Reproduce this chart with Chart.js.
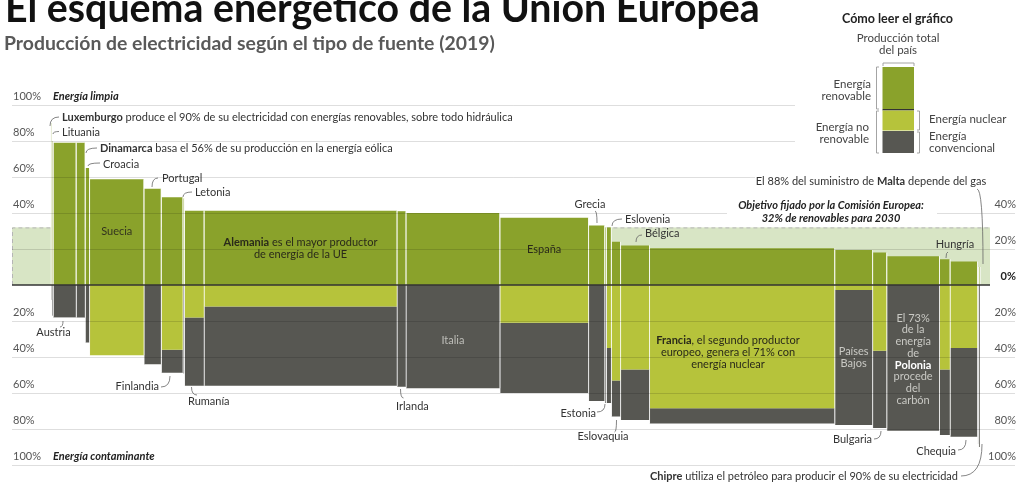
<!DOCTYPE html>
<html lang="es">
<head>
<meta charset="utf-8">
<title>El esquema energético de la Unión Europea</title>
<script src="https://cdn.jsdelivr.net/npm/chart.js@4.4.1/dist/chart.umd.min.js"></script>
<style>
  html, body { margin: 0; padding: 0; background: #fff; }
  #wrap { position: relative; width: 1017px; height: 482px; }
</style>
</head>
<body>
<div id="wrap"><canvas id="chart"></canvas></div>
<script>
// Datos (2019). Ancho = produccion total (TWh), alto = % por fuente.
const paises = ['Luxemburgo', 'Lituania', 'Austria', 'Dinamarca', 'Croacia', 'Suecia', 'Portugal', 'Finlandia',
  'Letonia', 'Rumanía', 'Alemania', 'Irlanda', 'Italia', 'España', 'Grecia', 'Estonia', 'Eslovenia',
  'Eslovaquia', 'Bélgica', 'Francia', 'Países Bajos', 'Bulgaria', 'Polonia', 'Hungría', 'Chequia', 'Malta', 'Chipre'];
const produccion = [3, 4, 71, 28, 13.5, 168, 53.5, 67, 4.6, 60.6, 596, 27.7, 290, 274, 50, 5, 15.5,
  28.3, 89.5, 572, 117, 43.7, 163, 32.6, 85, 3, 4.6];
const renovable = [90, 80, 79, 79, 65, 58.7, 53.5, 48.7, 48, 41.3, 41.3, 41, 40, 37.4, 33, 32, 32,
  24, 22, 20.4, 19.4, 18, 16, 14.3, 13, 10, 10];
const nuclear = [0, 0, 0, 0, 0, 39, 0, 36, 0, 18, 12, 0, 0, 21, 0, 0, 35,
  53, 47, 68.5, 2.8, 36.5, 0, 46.9, 35, 0, 0];
const convencional = [8, 17, 18, 18, 32, 0, 44, 12.7, 49, 38, 44, 56.5, 57.4, 39, 64.4, 65.5, 30.5,
  20, 28, 8.4, 75, 43, 81, 36.4, 49.3, 88, 90];
const ticksY = [-100, -80, -60, -40, -20, 0, 20, 40, 60, 80, 100];
const OBJETIVO = 32;

const FAM = "Lato, 'Noto Sans', sans-serif";
const C_REN = '#8aa22b';
const C_NUC = '#b6c33b';
const C_CONV = '#575752';
const SEP = 'rgba(255,255,255,0.45)';

const total = produccion.reduce((s, v) => s + v, 0);
// margenes del eje x (en unidades de produccion) para que la rejilla ocupe todo el ancho
const X_MIN = -120;
const X_MAX = total + 108;

const datasets = [];
function addSeg(x0, x1, a, b, color) {
  if (a === b) return;
  datasets.push({
    data: [{ x: x0, y: a }, { x: x0, y: b }, { x: x1, y: b }, { x: x1, y: a }],
    fill: { value: a },
    backgroundColor: color,
    borderColor: SEP,
    borderWidth: 1,
    segment: { borderColor: (c) => c.p0.parsed.x === c.p1.parsed.x ? SEP : 'rgba(0,0,0,0)' },
    pointRadius: 0,
    tension: 0,
  });
}
let acc = 0;
paises.forEach((p, i) => {
  const x1 = acc + produccion[i];
  addSeg(acc, x1, 0, renovable[i], C_REN);
  addSeg(acc, x1, 0, -nuclear[i], C_NUC);
  addSeg(acc, x1, -nuclear[i], -(nuclear[i] + convencional[i]), C_CONV);
  acc = x1;
});
const centro = (nombre) => {
  const i = paises.indexOf(nombre);
  const ini = produccion.slice(0, i).reduce((s, v) => s + v, 0);
  return ini + produccion[i] / 2;
};

function rich(ctx, parts, x, y, align, size, color) {
  const widths = parts.map(([t, b]) => { ctx.font = `${b ? 'bold ' : ''}${size}px ${FAM}`; return ctx.measureText(t).width; });
  const w = widths.reduce((s, v) => s + v, 0);
  let cx = align === 'center' ? x - w / 2 : align === 'right' ? x - w : x;
  ctx.textAlign = 'left';
  ctx.textBaseline = 'alphabetic';
  parts.forEach(([t, b, c], k) => {
    ctx.font = `${b ? 'bold ' : ''}${size}px ${FAM}`;
    ctx.fillStyle = c || color;
    ctx.fillText(t, cx, y);
    cx += widths[k];
  });
  return w;
}
function leader(ctx, x1, y1, x2, y2) {
  ctx.beginPath();
  ctx.moveTo(x1, y1);
  ctx.quadraticCurveTo(x1, y2, x2, y2);
  ctx.stroke();
}

const bandPlugin = {
  id: 'banda',
  beforeDatasetsDraw(chart) {
    const { ctx, chartArea: ca, scales: { y } } = chart;
    const top = y.getPixelForValue(OBJETIVO);
    const bot = y.getPixelForValue(0);
    const right = 990;
    ctx.save();
    ctx.fillStyle = '#d8e5c5';
    ctx.fillRect(ca.left, top, right - ca.left, bot - top);
    ctx.strokeStyle = '#b5b5b5';
    ctx.setLineDash([4, 3]);
    ctx.lineWidth = 1;
    ctx.beginPath();
    ctx.moveTo(ca.left + 0.5, bot);
    ctx.lineTo(ca.left + 0.5, top + 0.5);
    ctx.lineTo(right, top + 0.5);
    ctx.stroke();
    ctx.restore();
  },
};

const notasPlugin = {
  id: 'notas',
  afterDraw(chart) {
    const { ctx, chartArea: ca, scales: { x, y } } = chart;
    ctx.save();
    // linea del cero
    ctx.strokeStyle = '#333';
    ctx.lineWidth = 1.5;
    ctx.beginPath();
    ctx.moveTo(ca.left, y.getPixelForValue(0));
    ctx.lineTo(990, y.getPixelForValue(0));
    ctx.stroke();

    // titulo
    ctx.textAlign = 'left';
    ctx.fillStyle = '#111';
    ctx.font = `bold 40px ${FAM}`;
    let s = 40 * 755 / ctx.measureText('El esquema energético de la Unión Europea').width;
    ctx.font = `bold ${s}px ${FAM}`;
    ctx.fillText('El esquema energético de la Unión Europea', 5, 22);
    ctx.fillStyle = '#595959';
    ctx.font = `bold 40px ${FAM}`;
    s = 40 * 491 / ctx.measureText('Producción de electricidad según el tipo de fuente (2019)').width;
    ctx.font = `bold ${s}px ${FAM}`;
    ctx.fillText('Producción de electricidad según el tipo de fuente (2019)', 4, 50);

    // etiquetas de los extremos
    ctx.font = `italic bold 11px ${FAM}`;
    ctx.fillStyle = '#222';
    ctx.fillText('Energía limpia', 53, y.getPixelForValue(100) - 5);
    ctx.fillText('Energía contaminante', 53, y.getPixelForValue(-100) - 5);

    // cajas blancas de la leyenda, de Malta y del objetivo
    ctx.fillStyle = '#fff';
    ctx.fillRect(795, 0, 222, 160);
    ctx.fillRect(755, 172, 262, 16);
    ctx.fillRect(727, 199, 210, 25);

    const T = '#333';
    const F = 11;
    ctx.strokeStyle = '#666';
    ctx.lineWidth = 0.8;
    // anotaciones superiores
    rich(ctx, [['Luxemburgo', true], [' produce el 90% de su electricidad con energías renovables, sobre todo hidráulica', false]], 62, 121, 'left', F, T);
    leader(ctx, 50, 126, 59, 117);
    rich(ctx, [['Lituania', false]], 62, 135.5, 'left', F, T);
    leader(ctx, 53, 134, 59, 131.5);
    rich(ctx, [['Dinamarca', true], [' basa el 56% de su producción en la energía eólica', false]], 100, 152, 'left', F, T);
    leader(ctx, 86, 153, 97, 148);
    rich(ctx, [['Croacia', false]], 103, 167.5, 'left', F, T);
    leader(ctx, 88, 166, 100, 163);
    rich(ctx, [['Portugal', false]], 162, 182, 'left', F, T);
    leader(ctx, 152, 187, 158, 178);
    rich(ctx, [['Letonia', false]], 195, 195.5, 'left', F, T);
    leader(ctx, 183, 197, 192, 192);
    rich(ctx, [['Grecia', false]], 590, 207.5, 'center', F, T);
    leader(ctx, 597, 223, 595, 211);
    rich(ctx, [['Eslovenia', false]], 625, 222.5, 'left', F, T);
    leader(ctx, 612, 226, 622, 219);
    rich(ctx, [['Bélgica', false]], 645, 237, 'left', F, T);
    leader(ctx, 636, 242, 642, 235);
    rich(ctx, [['Hungría', false]], 955, 247.5, 'center', F, T);
    leader(ctx, 946, 258, 948, 252);
    rich(ctx, [['El 88% del suministro de ', false], ['Malta', true], [' depende del gas', false]], 871, 184.5, 'center', F, T);
    leader(ctx, 983, 264, 977, 189);
    ctx.font = `italic bold ${F}px ${FAM}`;
    ctx.textAlign = 'center';
    ctx.fillStyle = '#222';
    ctx.fillText('Objetivo fijado por la Comisión Europea:', 831, 209);
    ctx.fillText('32% de renovables para 2030', 831, 221.5);

    // etiquetas inferiores
    rich(ctx, [['Austria', false]], 53.5, 336, 'center', F, T);
    leader(ctx, 63, 321, 60, 327);
    rich(ctx, [['Finlandia', false]], 159, 389.5, 'right', F, T);
    leader(ctx, 170, 376, 161, 387);
    rich(ctx, [['Rumanía', false]], 188, 405, 'left', F, T);
    leader(ctx, 191.5, 387, 197, 395);
    rich(ctx, [['Irlanda', false]], 396, 409.5, 'left', F, T);
    leader(ctx, 400.5, 389, 403.5, 398);
    rich(ctx, [['Estonia', false]], 596, 417, 'right', F, T);
    leader(ctx, 605, 404, 597, 412);
    rich(ctx, [['Eslovaquia', false]], 603, 439.5, 'center', F, T);
    leader(ctx, 616.5, 420, 614.5, 432);
    rich(ctx, [['Bulgaria', false]], 872, 443, 'right', F, T);
    leader(ctx, 881, 431, 874, 439);
    rich(ctx, [['Chequia', false]], 956, 454.5, 'right', F, T);
    leader(ctx, 966, 440, 958, 450);
    rich(ctx, [['Chipre', true], [' utiliza el petróleo para producir el 90% de su electricidad', false]], 958, 480, 'right', F, T);
    leader(ctx, 982, 444, 961, 476);

    // textos dentro de las barras
    rich(ctx, [['Suecia', false]], x.getPixelForValue(centro('Suecia')), 235, 'center', F, '#33331f');
    const al = x.getPixelForValue(centro('Alemania'));
    rich(ctx, [['Alemania', true], [' es el mayor productor', false]], al, 245.5, 'center', F, '#2a2a1a');
    rich(ctx, [['de energía de la UE', false]], al, 257.5, 'center', F, '#2a2a1a');
    rich(ctx, [['España', false]], x.getPixelForValue(centro('España')), 252.5, 'center', F, '#2a2a1a');
    rich(ctx, [['Italia', false]], x.getPixelForValue(centro('Italia')), 343.5, 'center', F, '#bdbdb8');
    rich(ctx, [['Francia', true], [', el segundo productor', false]], 728, 344, 'center', F, '#2a2a1a');
    rich(ctx, [['europeo, genera el 71% con', false]], 728, 356, 'center', F, '#2a2a1a');
    rich(ctx, [['energía nuclear', false]], 728, 367.5, 'center', F, '#2a2a1a');
    const pb = x.getPixelForValue(centro('Países Bajos'));
    rich(ctx, [['Países', false]], pb, 355, 'center', F, '#c9c9c4');
    rich(ctx, [['Bajos', false]], pb, 367, 'center', F, '#c9c9c4');
    const po = x.getPixelForValue(centro('Polonia'));
    ['El 73%', 'de la', 'energía', 'de', 'Polonia', 'procede', 'del', 'carbón'].forEach((t, k) => {
      rich(ctx, [[t, t === 'Polonia', t === 'Polonia' ? '#fff' : null]], po, 321.5 + k * 11.75, 'center', F, '#c9c9c4');
    });

    // leyenda
    rich(ctx, [['Cómo leer el gráfico', true]], 897.5, 23, 'center', 12.5, '#222');
    rich(ctx, [['Producción total', false]], 898, 42, 'center', 11.5, '#444');
    rich(ctx, [['del país', false]], 898, 54, 'center', 11.5, '#444');
    ctx.strokeStyle = '#9a9a9a';
    ctx.lineWidth = 0.9;
    const br = (pts) => { ctx.beginPath(); ctx.moveTo(pts[0], pts[1]); for (let k = 2; k < pts.length; k += 2) ctx.lineTo(pts[k], pts[k + 1]); ctx.stroke(); };
    br([883, 66, 883, 63, 914, 63, 914, 66]);
    br([879, 67, 876.5, 67, 876.5, 109, 879, 109]);
    br([879, 111, 876.5, 111, 876.5, 153, 879, 153]);
    br([917, 111, 919.5, 111, 919.5, 130, 917, 130]);
    br([917, 132, 919.5, 132, 919.5, 153, 917, 153]);
    ctx.fillStyle = C_REN; ctx.fillRect(882.5, 67, 31.5, 42);
    ctx.fillStyle = '#333'; ctx.fillRect(882.5, 109, 31.5, 1.5);
    ctx.fillStyle = C_NUC; ctx.fillRect(882.5, 110.5, 31.5, 20);
    ctx.fillStyle = C_CONV; ctx.fillRect(882.5, 131, 31.5, 22);
    rich(ctx, [['Energía', false]], 871, 88, 'right', 11.5, '#444');
    rich(ctx, [['renovable', false]], 871, 100, 'right', 11.5, '#444');
    rich(ctx, [['Energía no', false]], 869, 131, 'right', 11.5, '#444');
    rich(ctx, [['renovable', false]], 869, 143, 'right', 11.5, '#444');
    rich(ctx, [['Energía nuclear', false]], 929, 123, 'left', 11.5, '#444');
    rich(ctx, [['Energía', false]], 929, 140, 'left', 11.5, '#444');
    rich(ctx, [['convencional', false]], 929, 151.5, 'left', 11.5, '#444');
    ctx.restore();
  },
};

const tickFont = (c) => ({ family: FAM, size: 11, weight: c.tick && c.tick.value === 0 ? 'bold' : 'normal' });
const tickColor = (c) => c.tick && c.tick.value === 0 ? '#222' : '#555';

new Chart(document.getElementById('chart'), {
  type: 'line',
  data: { datasets },
  options: {
    responsive: true,
    maintainAspectRatio: false,
    animation: false,
    events: [],
    layout: { padding: { left: 10, right: 0, top: 105, bottom: 17 } },
    plugins: { legend: { display: false }, tooltip: { enabled: false } },
    scales: {
      x: { type: 'linear', min: X_MIN, max: X_MAX, display: false },
      y: {
        min: -100, max: 100,
        afterBuildTicks: (sc) => { sc.ticks = ticksY.map((v) => ({ value: v })); },
        grid: { z: 1, drawTicks: false, color: (c) => c.tick && c.tick.value === 0 ? 'rgba(0,0,0,0)' : 'rgba(0,0,0,0.13)' },
        border: { display: false },
        ticks: { mirror: true, padding: 1, labelOffset: -9, font: tickFont, color: tickColor, callback: (v) => Math.abs(v) + '%' },
      },
      y2: {
        position: 'right',
        min: -100, max: 100,
        afterBuildTicks: (sc) => { sc.ticks = ticksY.map((v) => ({ value: v })); },
        grid: { display: false, drawTicks: false },
        border: { display: false },
        ticks: { mirror: true, padding: 1, labelOffset: -9, font: tickFont, color: tickColor, callback: (v) => v > 40 ? '' : Math.abs(v) + '%' },
      },
    },
  },
  plugins: [bandPlugin, notasPlugin],
});
</script>
</body>
</html>
